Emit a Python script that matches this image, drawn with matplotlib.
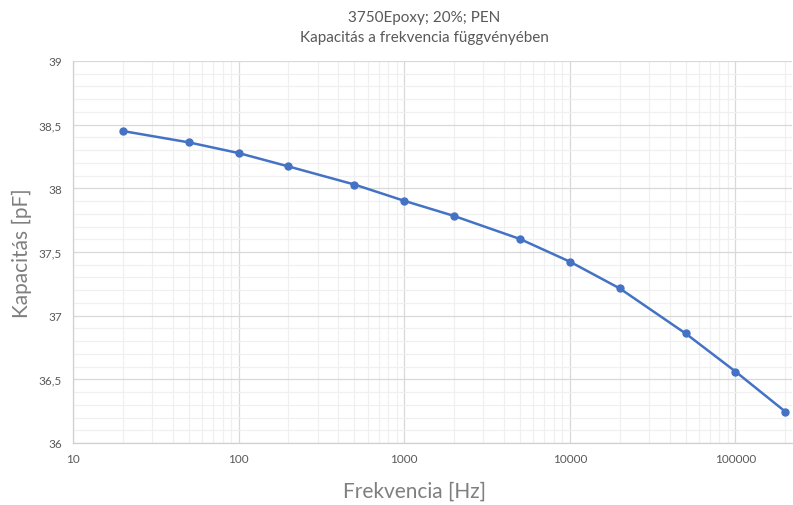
import matplotlib.pyplot as plt
from matplotlib.ticker import FixedLocator, FuncFormatter, LogLocator, MultipleLocator, NullFormatter

freq = [20, 50, 100, 200, 500, 1000, 2000, 5000, 10000, 20000, 50000, 100000, 200000]
cap = [38.450, 38.361, 38.277, 38.172, 38.030, 37.902, 37.783, 37.602, 37.424,
       37.214, 36.860, 36.561, 36.246]

x_ticks = [10, 100, 1000, 10000, 100000]
y_ticks = [36, 36.5, 37, 37.5, 38, 38.5, 39]

title = "3750Epoxy; 20%; PEN\nKapacitás a frekvencia függvényében"
xlabel = "Frekvencia [Hz]"
ylabel = "Kapacitás [pF]"

txt = "#595959"
plt.rcParams['font.family'] = ['Lato', 'DejaVu Sans']

fig = plt.figure(figsize=(7.93, 5.06), dpi=100)
ax = fig.add_axes([73 / 793, (506 - 444) / 506, 1 - 73 / 793 - 0.001, (444 - 62) / 506])

ax.plot(freq, cap, color="#4472C4", lw=1.8, marker="o", ms=5, zorder=3)

ax.set_xscale("log")
ax.set_xlim(10, 2.2e5)
ax.set_ylim(36, 39)

ax.xaxis.set_major_locator(FixedLocator(x_ticks))
ax.xaxis.set_major_formatter(FuncFormatter(lambda v, p: f"{int(v)}"))
ax.xaxis.set_minor_locator(LogLocator(base=10, subs=range(2, 10)))
ax.xaxis.set_minor_formatter(NullFormatter())
ax.yaxis.set_major_locator(FixedLocator(y_ticks))
ax.yaxis.set_major_formatter(FuncFormatter(lambda v, p: f"{v:g}".replace(".", ",")))
ax.yaxis.set_minor_locator(MultipleLocator(0.1))

ax.grid(which="major", color="#D9D9D9", lw=0.9)
ax.grid(which="minor", color="#F0F0F0", lw=0.9)
ax.set_axisbelow(True)

for s in ["top", "right"]:
    ax.spines[s].set_visible(False)
for s in ["left", "bottom"]:
    ax.spines[s].set_color("#D0D0D0")
    ax.spines[s].set_linewidth(0.9)

ax.tick_params(which="both", length=0, colors=txt, labelsize=8.5)
ax.tick_params(axis="x", pad=7)
ax.tick_params(axis="y", pad=8)

fig.text(0.535, 0.978, title, ha="center", va="top", fontsize=11,
         color=txt, linespacing=1.5)
fig.text(0.523, 0.028, xlabel, ha="center", va="center", fontsize=15, color="#7F7F7F")
fig.text(0.028, 0.5, ylabel, ha="center", va="center", rotation=90, fontsize=15, color="#7F7F7F")

fig.savefig("out.png", dpi=100)
